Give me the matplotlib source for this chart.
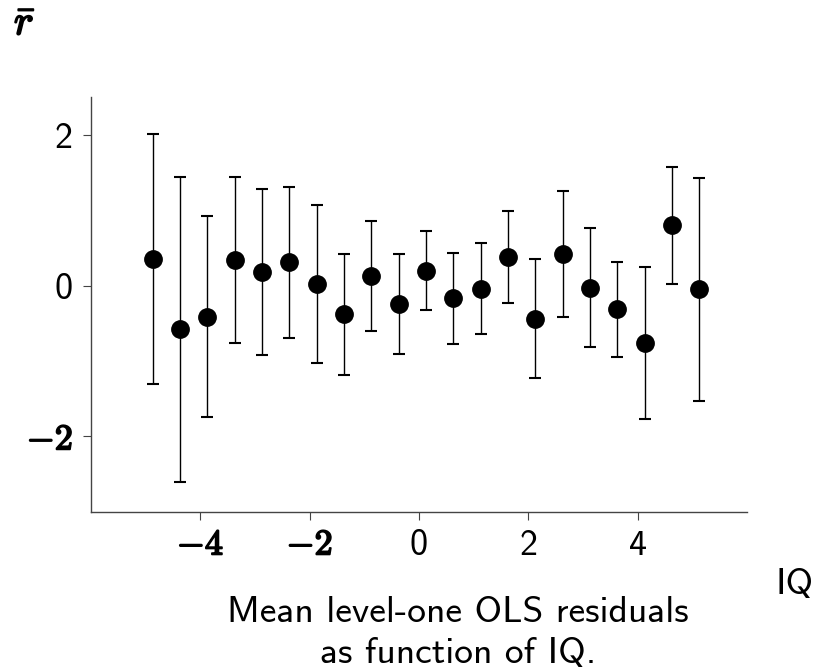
import matplotlib
matplotlib.use("Agg")
import matplotlib.pyplot as plt
import matplotlib.patheffects as pe
from matplotlib.ticker import FixedLocator, FixedFormatter

plt.rcParams["font.family"] = ["cmss10", "DejaVu Sans"]
plt.rcParams["mathtext.fontset"] = "cm"
plt.rcParams["axes.unicode_minus"] = False

# IQ bin centres, mean OLS residuals and half-width of the error bars
IQ = [-4.87, -4.37, -3.87, -3.37, -2.87, -2.37, -1.87, -1.37, -0.87, -0.37, 0.13,
      0.63, 1.13, 1.63, 2.13, 2.63, 3.13, 3.63, 4.13, 4.63, 5.13]
MEAN_RES = [0.35, -0.58, -0.41, 0.34, 0.18, 0.31, 0.02, -0.38, 0.13, -0.24, 0.20,
            -0.17, -0.04, 0.38, -0.44, 0.42, -0.03, -0.31, -0.76, 0.80, -0.05]
ERR = [1.66, 2.02, 1.33, 1.10, 1.10, 1.00, 1.05, 0.80, 0.73, 0.66, 0.52,
       0.60, 0.60, 0.61, 0.79, 0.84, 0.79, 0.63, 1.01, 0.78, 1.48]

X_TICKS = [-4, -2, 0, 2, 4]
X_LABELS = [r"$\mathbf{-4}$", r"$\mathbf{-2}$", "0", "2", "4"]
Y_TICKS = [-2, 0, 2]
Y_LABELS = [r"$\mathbf{-2}$", "0", "2"]

BOLD = [pe.withStroke(linewidth=1.3, foreground="black")]

fig = plt.figure(figsize=(8.28, 6.70), dpi=100)
ax = fig.add_axes([0.110, 0.236, 0.792, 0.619])

ax.errorbar(IQ, MEAN_RES, yerr=ERR, fmt="o", color="black", ms=12.5,
            ecolor="black", elinewidth=1.0, capsize=4, capthick=1.5)

ax.set_xlim(-6, 6)
ax.set_ylim(-3, 2.5)
ax.xaxis.set_major_locator(FixedLocator(X_TICKS))
ax.xaxis.set_major_formatter(FixedFormatter(X_LABELS))
ax.yaxis.set_major_locator(FixedLocator(Y_TICKS))
ax.yaxis.set_major_formatter(FixedFormatter(Y_LABELS))
ax.tick_params(direction="out", length=6, width=0.8, color="#444444",
               labelsize=26)
ax.tick_params(axis="x", pad=6)
ax.tick_params(axis="y", pad=7)

for lab in ax.get_xticklabels()[:2] + ax.get_yticklabels()[:1]:
    lab.set_path_effects(BOLD)

for side in ["top", "right"]:
    ax.spines[side].set_visible(False)
for side in ["left", "bottom"]:
    ax.spines[side].set_linewidth(1.0)
    ax.spines[side].set_color("#444444")

fig.text(776 / 828, 1 - 585 / 670, "IQ", fontsize=27, ha="left", va="center")
fig.text(458 / 828, 1 - 633 / 670, "Mean level-one OLS residuals\nas function of IQ.",
         fontsize=27, ha="center", va="center", linespacing=1.28)
fig.text(14 / 828, 1 - 24 / 670, r"$\bar{r}$", fontsize=30,
         ha="left", va="center", path_effects=BOLD)

fig.savefig("out.png", dpi=100)
